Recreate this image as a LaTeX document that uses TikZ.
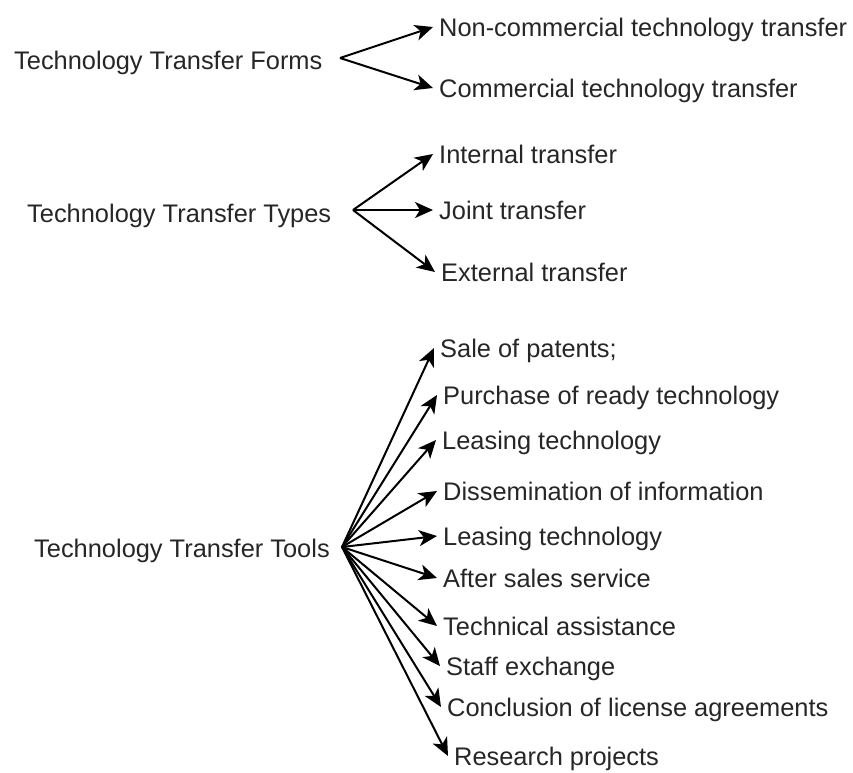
\documentclass[tikz,border=0pt]{standalone}
\usepackage{fontspec}
\setmainfont{Liberation Sans}
\usetikzlibrary{arrows.meta}
\tikzset{
  lbl/.style={anchor=west, inner xsep=6pt, inner ysep=0pt, text depth=0pt, text height=18pt, font=\fontsize{25.4}{30}\selectfont, text=black!85},
  head/.style={anchor=west, inner sep=0pt, text depth=0pt, text height=18pt, font=\fontsize{25.4}{30}\selectfont, text=black!85},
  arr/.style={draw=black, line width=2pt, -{Stealth[length=18pt,width=16pt,inset=5pt]}}
}
\begin{document}
\begin{tikzpicture}[x=1pt,y=-1pt]
\useasboundingbox (0,0) rectangle (853,772);
% group 1
\node[head] (forms) at (14,60) {Technology Transfer Forms};
\coordinate (h1) at (340,58);
\node[lbl] (f1) at (433,27) {Non-commercial technology transfer};
\node[lbl] (f2) at (433,88) {Commercial technology transfer};
\draw[arr] (h1) -- (f1.west);
\draw[arr] (h1) -- (f2.west);
% group 2
\node[head] (types) at (27,213) {Technology Transfer Types};
\coordinate (h2) at (353,210);
\node[lbl] (y1) at (433,154) {Internal transfer};
\node[lbl] (y2) at (433,210) {Joint transfer};
\node[lbl] (y3) at (435,272) {External transfer};
\draw[arr] (h2) -- (y1.west);
\draw[arr] (h2) -- (y2.west);
\draw[arr] (h2) -- (y3.west);
% group 3
\node[head] (tools) at (34,548) {Technology Transfer Tools};
\coordinate (h3) at (342,547);
\node[lbl] (t1) at (434,348) {Sale of patents;};
\node[lbl] (t2) at (437,395) {Purchase of ready technology};
\node[lbl] (t3) at (436,440) {Leasing technology};
\node[lbl] (t4) at (437,491) {Dissemination of information};
\node[lbl] (t5) at (437,536) {Leasing technology};
\node[lbl] (t6) at (437,578) {After sales service};
\node[lbl] (t7) at (437,626) {Technical assistance};
\node[lbl] (t8) at (440,666) {Staff exchange};
\node[lbl] (t9) at (441,707) {Conclusion of license agreements};
\node[lbl] (t10) at (448,756) {Research projects};
\foreach \t in {t1,t2,t3,t4,t5,t6,t7,t8,t9,t10} \draw[arr] (h3) -- (\t.west);
\end{tikzpicture}
\end{document}
